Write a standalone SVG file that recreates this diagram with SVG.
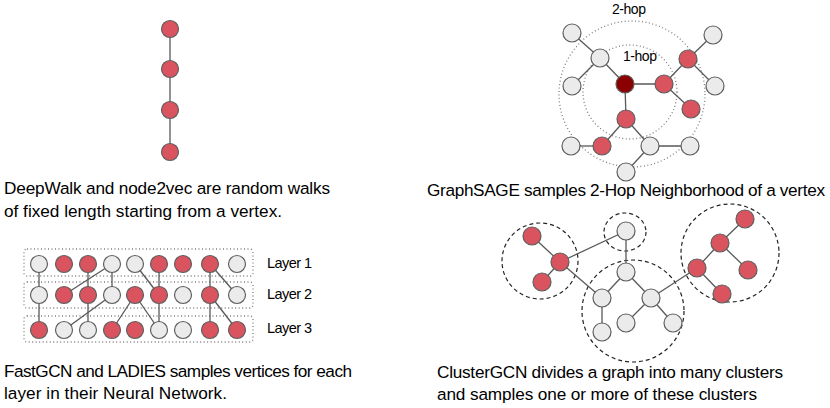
<svg xmlns="http://www.w3.org/2000/svg" width="830" height="408" viewBox="0 0 830 408">
<style>
.r{fill:#d9545e;stroke:#5f5f5f;stroke-width:1.2}
.g{fill:#ebebeb;stroke:#5f5f5f;stroke-width:1.2}
.d{fill:#8b0000;stroke:#5f5f5f;stroke-width:1.2}
.e line{stroke:#595959;stroke-width:1.3}
.dot{fill:none;stroke:#7f7f7f;stroke-width:1.3;stroke-dasharray:1 2.5}
.dash{fill:none;stroke:#222;stroke-width:1.2;stroke-dasharray:4 3}
text{font-family:"Liberation Sans",Arial,sans-serif;fill:#000}
.cap{font-size:17.2px}
.sm{font-size:14.5px}
.hop{font-size:14px}
</style>
<rect width="830" height="408" fill="#fff"/>

<!-- DeepWalk -->
<g id="deepwalk-edges" class="e">
<line x1="170" y1="29" x2="170" y2="152"/>
</g>
<g id="deepwalk-nodes">
<circle class="r" cx="170" cy="29" r="8.5"/>
<circle class="r" cx="170" cy="69" r="8.5"/>
<circle class="r" cx="170" cy="110" r="8.5"/>
<circle class="r" cx="170" cy="152" r="8.5"/>
</g>
<text class="cap" x="4" y="194" textLength="326">DeepWalk and node2vec are random walks</text>
<text class="cap" x="4" y="217" textLength="278">of fixed length starting from a vertex.</text>

<!-- GraphSAGE -->
<g id="graphsage-hops">
<circle class="dot" cx="632" cy="94" r="73"/>
<circle class="dot" cx="630" cy="92" r="47"/>
<text class="hop" x="612" y="14" textLength="34">2-hop</text>
<text class="hop" x="623" y="61" textLength="34">1-hop</text>
</g>
<g id="graphsage-edges" class="e">
<line x1="572" y1="33" x2="600" y2="58"/>
<line x1="600" y1="58" x2="572" y2="86"/>
<line x1="600" y1="58" x2="625" y2="84"/>
<line x1="625" y1="84" x2="664" y2="84"/>
<line x1="664" y1="84" x2="688" y2="59"/>
<line x1="688" y1="59" x2="713" y2="35"/>
<line x1="688" y1="59" x2="715" y2="86"/>
<line x1="664" y1="84" x2="691" y2="109"/>
<line x1="625" y1="84" x2="626" y2="119"/>
<line x1="626" y1="119" x2="602" y2="146"/>
<line x1="602" y1="146" x2="571" y2="146"/>
<line x1="626" y1="119" x2="650" y2="146"/>
<line x1="650" y1="146" x2="690" y2="146"/>
<line x1="650" y1="146" x2="626" y2="172"/>
</g>
<g id="graphsage-nodes">
<circle class="g" cx="572" cy="33" r="9"/>
<circle class="g" cx="600" cy="58" r="9"/>
<circle class="g" cx="572" cy="86" r="9"/>
<circle class="d" cx="625" cy="84" r="9"/>
<circle class="r" cx="664" cy="84" r="9"/>
<circle class="r" cx="688" cy="59" r="9"/>
<circle class="g" cx="713" cy="35" r="9"/>
<circle class="g" cx="715" cy="86" r="9"/>
<circle class="r" cx="691" cy="109" r="9"/>
<circle class="r" cx="626" cy="119" r="9"/>
<circle class="r" cx="602" cy="146" r="9"/>
<circle class="g" cx="571" cy="146" r="9"/>
<circle class="g" cx="650" cy="146" r="9"/>
<circle class="g" cx="690" cy="146" r="9"/>
<circle class="g" cx="626" cy="172" r="9"/>
</g>
<text class="cap" x="427" y="196" textLength="398">GraphSAGE samples 2-Hop Neighborhood of a vertex</text>

<!-- FastGCN / LADIES -->
<g id="layer-boxes">
<rect class="dot" x="24" y="249" width="229" height="27" rx="3"/>
<rect class="dot" x="24" y="282" width="229" height="26" rx="3"/>
<rect class="dot" x="24" y="316" width="229" height="26" rx="3"/>
<text class="sm" x="267" y="268" textLength="45">Layer 1</text>
<text class="sm" x="267" y="299" textLength="45">Layer 2</text>
<text class="sm" x="267" y="333" textLength="45">Layer 3</text>
</g>
<g id="layer-edges" class="e">
<line x1="39" y1="264" x2="39" y2="330"/>
<line x1="88" y1="264" x2="88" y2="330"/>
<line x1="112" y1="264" x2="64" y2="295"/>
<line x1="112" y1="264" x2="112" y2="295"/>
<line x1="135" y1="264" x2="159" y2="295"/>
<line x1="159" y1="264" x2="159" y2="330"/>
<line x1="210" y1="264" x2="210" y2="330"/>
<line x1="210" y1="264" x2="237" y2="295"/>
<line x1="112" y1="295" x2="64" y2="330"/>
<line x1="135" y1="295" x2="112" y2="330"/>
<line x1="135" y1="295" x2="159" y2="330"/>
<line x1="210" y1="295" x2="237" y2="330"/>
</g>
<g id="layer1">
<circle class="g" cx="39" cy="264" r="8.5"/>
<circle class="r" cx="64" cy="264" r="8.5"/>
<circle class="r" cx="88" cy="264" r="8.5"/>
<circle class="g" cx="112" cy="264" r="8.5"/>
<circle class="g" cx="135" cy="264" r="8.5"/>
<circle class="r" cx="159" cy="264" r="8.5"/>
<circle class="r" cx="183" cy="264" r="8.5"/>
<circle class="r" cx="210" cy="264" r="8.5"/>
<circle class="g" cx="237" cy="264" r="8.5"/>
</g>
<g id="layer2">
<circle class="g" cx="39" cy="295" r="8.5"/>
<circle class="r" cx="64" cy="295" r="8.5"/>
<circle class="r" cx="88" cy="295" r="8.5"/>
<circle class="g" cx="112" cy="295" r="8.5"/>
<circle class="r" cx="135" cy="295" r="8.5"/>
<circle class="r" cx="159" cy="295" r="8.5"/>
<circle class="g" cx="183" cy="295" r="8.5"/>
<circle class="r" cx="210" cy="295" r="8.5"/>
<circle class="g" cx="237" cy="295" r="8.5"/>
</g>
<g id="layer3">
<circle class="r" cx="39" cy="330" r="8.5"/>
<circle class="g" cx="64" cy="330" r="8.5"/>
<circle class="g" cx="88" cy="330" r="8.5"/>
<circle class="r" cx="112" cy="330" r="8.5"/>
<circle class="r" cx="135" cy="330" r="8.5"/>
<circle class="g" cx="159" cy="330" r="8.5"/>
<circle class="g" cx="183" cy="330" r="8.5"/>
<circle class="r" cx="210" cy="330" r="8.5"/>
<circle class="r" cx="237" cy="330" r="8.5"/>
</g>
<text class="cap" x="4" y="377" textLength="348">FastGCN and LADIES samples vertices for each</text>
<text class="cap" x="4" y="399" textLength="223">layer in their Neural Network.</text>

<!-- ClusterGCN -->
<g id="clusters">
<circle class="dash" cx="540" cy="261" r="38"/>
<ellipse class="dash" cx="625" cy="232" rx="21" ry="19"/>
<circle class="dash" cx="633" cy="311" r="51"/>
<circle class="dash" cx="730" cy="253" r="49"/>
</g>
<g id="cluster-edges" class="e">
<line x1="532" y1="236" x2="560" y2="262"/>
<line x1="560" y1="262" x2="542" y2="282"/>
<line x1="560" y1="262" x2="626" y2="231"/>
<line x1="560" y1="262" x2="602" y2="298"/>
<line x1="626" y1="231" x2="626" y2="272"/>
<line x1="626" y1="272" x2="602" y2="298"/>
<line x1="626" y1="272" x2="651" y2="298"/>
<line x1="602" y1="298" x2="602" y2="332"/>
<line x1="651" y1="298" x2="626" y2="323"/>
<line x1="651" y1="298" x2="673" y2="323"/>
<line x1="651" y1="298" x2="697" y2="268"/>
<line x1="697" y1="268" x2="720" y2="243"/>
<line x1="720" y1="243" x2="745" y2="219"/>
<line x1="720" y1="243" x2="748" y2="270"/>
<line x1="697" y1="268" x2="722" y2="294"/>
</g>
<g id="cluster-nodes">
<circle class="r" cx="532" cy="236" r="9"/>
<circle class="r" cx="560" cy="262" r="9"/>
<circle class="r" cx="542" cy="282" r="9"/>
<circle class="g" cx="626" cy="231" r="9"/>
<circle class="g" cx="626" cy="272" r="9"/>
<circle class="g" cx="602" cy="298" r="9"/>
<circle class="g" cx="651" cy="298" r="9"/>
<circle class="g" cx="602" cy="332" r="9"/>
<circle class="g" cx="626" cy="323" r="9"/>
<circle class="g" cx="673" cy="323" r="9"/>
<circle class="r" cx="697" cy="268" r="9"/>
<circle class="r" cx="720" cy="243" r="9"/>
<circle class="r" cx="745" cy="219" r="9"/>
<circle class="r" cx="748" cy="270" r="9"/>
<circle class="r" cx="722" cy="294" r="9"/>
</g>
<text class="cap" x="437" y="378" textLength="346">ClusterGCN divides a graph into many clusters</text>
<text class="cap" x="437" y="400" textLength="320">and samples one or more of these clusters</text>
</svg>
